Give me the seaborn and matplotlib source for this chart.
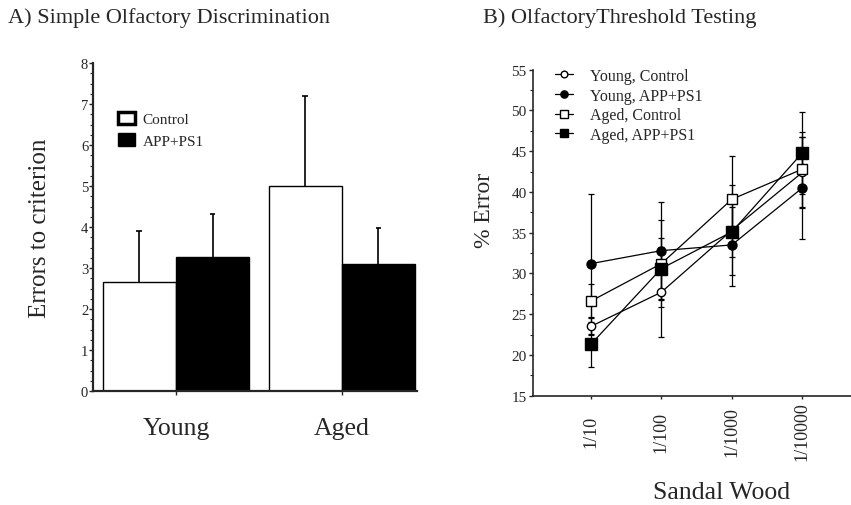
import numpy as np
import pandas as pd
import matplotlib
matplotlib.use('Agg')
import matplotlib.pyplot as plt
import matplotlib.transforms as mtransforms
import seaborn as sns
from matplotlib.ticker import MultipleLocator
from matplotlib.patches import Patch
from matplotlib.lines import Line2D

# Panel A: errors to criterion (mean, upper SEM)
groups = ['Young', 'Aged']
genotypes = ['Control', 'APP+PS1']
control_mean = [2.67, 5.01]
control_err = [1.24, 2.19]
app_mean = [3.26, 3.09]
app_err = [1.06, 0.88]

# Panel B: % error by sandal wood dilution
conc = ['1/10', '1/100', '1/1000', '1/10000']
young_ctrl = [23.5, 27.7, 35.3, 42.4]
young_ctrl_err = [1.1, 5.5, 5.5, 4.4]
young_app = [31.2, 32.8, 33.5, 40.5]
young_app_err = [8.6, 6.0, 5.1, 6.3]
aged_ctrl = [26.6, 31.2, 39.1, 42.8]
aged_ctrl_err = [2.1, 5.3, 5.3, 4.6]
aged_app = [21.3, 30.6, 35.1, 44.8]
aged_app_err = [2.8, 3.7, 3.1, 5.0]

sns.set_style('ticks')
plt.rcParams['font.family'] = ['Liberation Serif', 'DejaVu Serif']

fig = plt.figure(figsize=(8.51, 5.06), dpi=100)

# ---------------- Panel A ----------------
ax1 = fig.add_axes([93/851, 1-392/506, 324/851, 328/506])
df_a = pd.DataFrame({
    'age': groups * 2,
    'genotype': [genotypes[0]] * 2 + [genotypes[1]] * 2,
    'errors': control_mean + app_mean,
})
sns.barplot(data=df_a, x='age', y='errors', hue='genotype', order=groups,
            hue_order=genotypes, palette={'Control': 'white', 'APP+PS1': 'black'},
            edgecolor='black', linewidth=1, width=0.88, saturation=1,
            errorbar=None, legend=False, ax=ax1)

# upper-only error bars with a small cap
errs = control_err + app_err
for p, e in zip(ax1.patches, errs):
    xc = p.get_x() + p.get_width() / 2
    top = p.get_height() + e
    ax1.vlines(xc, p.get_height(), top, color='black', linewidth=1.2, zorder=3)
    ax1.hlines(top, xc - 0.018, xc + 0.018, color='black', linewidth=1.2, zorder=3)

ax1.set_xlim(-0.5, 1.452)
ax1.set_ylim(0, 8)
ax1.yaxis.set_major_locator(MultipleLocator(1))
ax1.yaxis.set_minor_locator(MultipleLocator(0.25))
ax1.tick_params(axis='y', which='major', direction='out', length=3, width=1,
                pad=0.5, labelsize=10.5)
ax1.tick_params(axis='y', which='minor', direction='out', length=2.5, width=0.8)
ax1.tick_params(axis='x', direction='out', length=3, width=1, pad=16, labelsize=18.5)
ax1.set_xlabel('')
ax1.set_ylabel('')
sns.despine(ax=ax1)
for s in ['left', 'bottom']:
    ax1.spines[s].set_linewidth(1.6)

leg_a = [Patch(facecolor='white', edgecolor='black', linewidth=2.5, label='Control'),
         Patch(facecolor='black', edgecolor='black', linewidth=1, label='APP+PS1')]
ax1.legend(handles=leg_a, loc='upper left', bbox_to_anchor=(0.077, 0.852),
           frameon=False, fontsize=11, handlelength=1.1, handleheight=0.9,
           handletextpad=0.5, labelspacing=0.45, borderpad=0, borderaxespad=0)

# ---------------- Panel B ----------------
ax2 = fig.add_axes([533/851, 1-396.7/506, 318/851, 326/506])
series = [
    (young_ctrl, young_ctrl_err, 'o', 'white', 6.0, 'Young, Control'),
    (young_app, young_app_err, 'o', 'black', 6.5, 'Young, APP+PS1'),
    (aged_ctrl, aged_ctrl_err, 's', 'white', 7.5, 'Aged, Control'),
    (aged_app, aged_app_err, 's', 'black', 8.0, 'Aged, APP+PS1'),
]
xs = np.arange(len(conc))
for vals, err, mk, fc, ms, lab in series:
    ax2.errorbar(xs, vals, yerr=err, fmt='none', ecolor='black', elinewidth=0.9,
                 capsize=2.2, capthick=0.9, zorder=2)
for vals, err, mk, fc, ms, lab in series:
    sns.lineplot(x=xs, y=vals, color='black', linewidth=0.9, marker=mk,
                 markersize=ms, markerfacecolor=fc, markeredgecolor='black',
                 markeredgewidth=1.0, ax=ax2, zorder=3)

ax2.set_xlim(-0.82, 3.69)
ax2.set_ylim(15, 55)
ax2.set_xticks(xs)
ax2.set_xticklabels(conc, rotation=90, va='center', ha='center')
shift = mtransforms.ScaledTranslation(4/100, 0, fig.dpi_scale_trans)
for lbl in ax2.get_xticklabels():
    lbl.set_transform(lbl.get_transform() + shift)
ax2.yaxis.set_major_locator(MultipleLocator(5))
ax2.yaxis.set_minor_locator(MultipleLocator(2.5))
ax2.tick_params(axis='y', which='major', direction='out', length=3, width=1,
                pad=1.5, labelsize=11)
ax2.tick_params(axis='y', which='minor', direction='out', length=2.5, width=0.8)
ax2.tick_params(axis='x', direction='out', length=2.5, width=1, pad=23, labelsize=13)
sns.despine(ax=ax2)
for s in ['left', 'bottom']:
    ax2.spines[s].set_linewidth(1.2)

leg_b = [Line2D([0], [0], color='black', linewidth=0.9, marker=mk, markersize=ms * 0.8,
                markerfacecolor=fc, markeredgecolor='black', markeredgewidth=1.0, label=lab)
         for vals, err, mk, fc, ms, lab in series]
ax2.legend(handles=leg_b, loc='upper left', bbox_to_anchor=(0.069, 1.005),
           frameon=False, fontsize=11.5, handlelength=1.1, handletextpad=1.1,
           labelspacing=0.22, borderpad=0, borderaxespad=0)

# ---------------- Texts ----------------
fig.text(8/851, 1-18/506, 'A) Simple Olfactory Discrimination', fontsize=16,
         ha='left', va='center')
fig.text(483/851, 1-18/506, 'B) OlfactoryThreshold Testing', fontsize=16,
         ha='left', va='center')
fig.text(40/851, 1-228/506, 'Errors to criterion', fontsize=18, rotation=90,
         ha='center', va='center')
fig.text(485/851, 1-210/506, '% Error', fontsize=17, rotation=90,
         ha='center', va='center')
fig.text(722/851, 1-493/506, 'Sandal Wood', fontsize=18.5, ha='center', va='center')

fig.savefig('out.png', dpi=100)
